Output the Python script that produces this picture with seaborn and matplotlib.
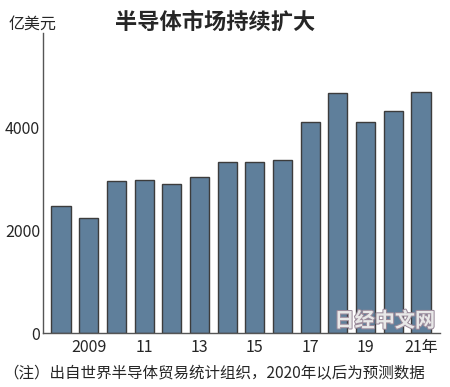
import matplotlib
matplotlib.use("Agg")
import matplotlib.pyplot as plt
import matplotlib.patheffects as pe
import seaborn as sns
import pandas as pd

# data (100 million USD)
years = list(range(2008, 2022))
sales = [2470, 2250, 2970, 2980, 2910, 3050, 3340, 3340, 3380, 4110, 4680, 4120, 4320, 4690]
tick_years = [2009, 2011, 2013, 2015, 2017, 2019, 2021]
tick_labels = ["2009", "11", "13", "15", "17", "19", "21年"]

sns.set_theme(style="white")
plt.rcParams['font.family'] = ['Noto Sans CJK SC', 'DejaVu Sans']

df = pd.DataFrame({"year": years, "sales": sales})

fig = plt.figure(figsize=(4.5, 3.87), dpi=100)
ax = fig.add_axes([0.0956, 0.1395, 0.8824, 0.7752])

sns.barplot(data=df, x="year", y="sales", color="#5f7f9b", width=0.69,
            edgecolor="#3c3c3c", linewidth=1.0, saturation=1, ax=ax)

ax.set_xlim(-0.65, 13.69)
ax.set_ylim(0, 5850)
ax.set_yticks([0, 2000, 4000])
ax.set_yticklabels(["0", "2000", "4000"], fontsize=11.5)
ax.set_xticks([years.index(y) for y in tick_years])
ax.set_xticklabels(tick_labels, fontsize=11.5)
ax.tick_params(axis="y", direction="in", length=4, width=0.8, color="#555555", pad=2)
ax.tick_params(axis="x", length=0, pad=4)
ax.set_xlabel("")
ax.set_ylabel("")

for side in ["top", "right"]:
    ax.spines[side].set_visible(False)
for side in ["left", "bottom"]:
    ax.spines[side].set_color("#555555")
    ax.spines[side].set_linewidth(1.0)

fig.text(0.478, 0.943, "半导体市场持续扩大", fontsize=16, fontweight="bold",
         ha="center", va="center")
fig.text(0.018, 0.938, "亿美元", fontsize=11.5, ha="left", va="center")
fig.text(0.008, 0.033, "（注）出自世界半导体贸易统计组织，2020年以后为预测数据",
         fontsize=11.2, ha="left", va="center")

# watermark
fig.text(0.855, 0.172, "日经中文网", fontsize=14.5, fontweight="bold", ha="center", va="center",
         color="#e8e8e8", path_effects=[pe.withStroke(linewidth=1.5, foreground="#9a8a9a")])

fig.savefig("out.png", dpi=100)
